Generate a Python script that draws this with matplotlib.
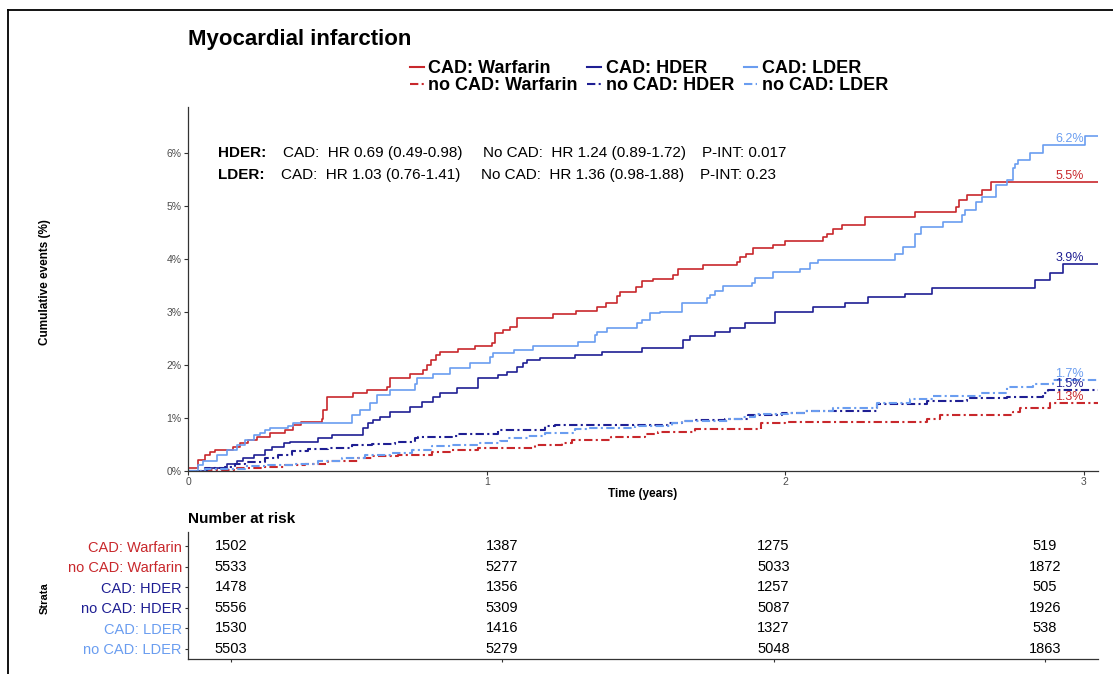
import matplotlib
matplotlib.use("Agg")
import numpy as np
import matplotlib.pyplot as plt
from matplotlib.lines import Line2D
from matplotlib.ticker import FuncFormatter

plt.rcParams["font.family"] = ["Liberation Sans", "DejaVu Sans"]

W, H = 1113, 674

# --- cumulative incidence step curves: time (years), events (%) ---
cad_warf_t = [0, 0.035, 0.057, 0.074, 0.09, 0.15, 0.174, 0.20, 0.23, 0.275, 0.325, 0.353, 0.38, 0.448,
              0.453, 0.464, 0.553, 0.598, 0.665, 0.676, 0.743, 0.788, 0.80, 0.815, 0.832, 0.843, 0.905,
              0.96, 1.017, 1.028, 1.056, 1.078, 1.10, 1.223, 1.30, 1.368, 1.40, 1.435, 1.446, 1.50, 1.52,
              1.558, 1.625, 1.64, 1.725, 1.837, 1.848, 1.87, 1.893, 1.96, 2.0, 2.127, 2.138, 2.16, 2.19,
              2.267, 2.434, 2.573, 2.582, 2.607, 2.657, 2.69]
cad_warf_y = [0.05, 0.20, 0.30, 0.36, 0.40, 0.46, 0.52, 0.58, 0.65, 0.71, 0.77, 0.87, 0.93, 0.99, 1.15,
              1.40, 1.47, 1.53, 1.59, 1.75, 1.84, 1.91, 2.00, 2.09, 2.19, 2.25, 2.31, 2.35, 2.41, 2.60,
              2.66, 2.72, 2.88, 2.96, 3.02, 3.10, 3.18, 3.31, 3.38, 3.48, 3.59, 3.62, 3.69, 3.82, 3.89,
              3.95, 4.04, 4.09, 4.20, 4.26, 4.35, 4.42, 4.48, 4.56, 4.64, 4.79, 4.89, 4.99, 5.11, 5.21,
              5.31, 5.45]

nocad_warf_t = [0, 0.05, 0.157, 0.247, 0.325, 0.392, 0.47, 0.57, 0.615, 0.704, 0.816, 0.883, 0.972,
                1.162, 1.251, 1.285, 1.418, 1.53, 1.575, 1.697, 1.92, 2.0, 2.473, 2.518, 2.763, 2.785,
                2.886]
nocad_warf_y = [0, 0.02, 0.05, 0.08, 0.11, 0.14, 0.19, 0.24, 0.29, 0.31, 0.36, 0.39, 0.43, 0.49, 0.53,
                0.58, 0.64, 0.69, 0.74, 0.80, 0.90, 0.93, 0.99, 1.06, 1.12, 1.18, 1.29]

cad_hder_t = [0, 0.062, 0.13, 0.163, 0.185, 0.22, 0.258, 0.28, 0.32, 0.341, 0.436, 0.481, 0.587, 0.604,
              0.62, 0.643, 0.676, 0.743, 0.782, 0.82, 0.843, 0.9, 0.972, 1.039, 1.067, 1.10, 1.123,
              1.134, 1.178, 1.296, 1.385, 1.519, 1.658, 1.681, 1.764, 1.815, 1.865, 1.965, 2.094, 2.2,
              2.278, 2.40, 2.49, 2.836, 2.886, 2.93]
cad_hder_y = [0, 0.05, 0.14, 0.18, 0.24, 0.30, 0.40, 0.46, 0.52, 0.55, 0.62, 0.68, 0.81, 0.90, 0.96,
              1.02, 1.12, 1.21, 1.31, 1.40, 1.47, 1.56, 1.75, 1.81, 1.87, 1.97, 2.03, 2.09, 2.13, 2.19,
              2.25, 2.33, 2.47, 2.55, 2.63, 2.69, 2.80, 3.01, 3.10, 3.18, 3.29, 3.35, 3.45, 3.60, 3.74,
              3.90]

nocad_hder_t = [0, 0.057, 0.124, 0.157, 0.19, 0.258, 0.302, 0.347, 0.403, 0.47, 0.548, 0.615, 0.693,
                0.76, 0.771, 0.883, 0.905, 1.039, 1.195, 1.229, 1.608, 1.653, 1.697, 1.798, 1.876,
                1.988, 2.066, 2.306, 2.473, 2.607, 2.741, 2.864, 2.88]
nocad_hder_y = [0, 0.05, 0.08, 0.14, 0.17, 0.24, 0.30, 0.37, 0.41, 0.44, 0.49, 0.51, 0.54, 0.62, 0.64,
                0.67, 0.70, 0.77, 0.84, 0.87, 0.91, 0.95, 0.97, 0.99, 1.06, 1.10, 1.14, 1.26, 1.32, 1.37,
                1.40, 1.47, 1.52]

cad_lder_t = [0, 0.035, 0.051, 0.096, 0.13, 0.163, 0.19, 0.22, 0.24, 0.258, 0.275, 0.336, 0.353, 0.548,
              0.576, 0.61, 0.632, 0.676, 0.76, 0.766, 0.82, 0.877, 0.944, 1.01, 1.022, 1.09, 1.156,
              1.307, 1.363, 1.368, 1.402, 1.502, 1.519, 1.547, 1.58, 1.653, 1.737, 1.748, 1.764, 1.792,
              1.887, 1.898, 1.96, 2.049, 2.082, 2.11, 2.367, 2.395, 2.434, 2.456, 2.529, 2.59, 2.60,
              2.64, 2.657, 2.707, 2.741, 2.763, 2.769, 2.78, 2.819, 2.863, 3.003]
cad_lder_y = [0, 0.11, 0.18, 0.30, 0.40, 0.49, 0.58, 0.68, 0.71, 0.77, 0.81, 0.84, 0.90, 1.06, 1.15,
              1.28, 1.43, 1.53, 1.65, 1.75, 1.84, 1.94, 2.03, 2.16, 2.22, 2.28, 2.35, 2.44, 2.57, 2.63,
              2.69, 2.79, 2.85, 2.99, 3.01, 3.18, 3.26, 3.32, 3.40, 3.49, 3.54, 3.64, 3.76, 3.82, 3.92,
              3.98, 4.10, 4.23, 4.48, 4.60, 4.70, 4.83, 4.92, 5.08, 5.18, 5.40, 5.49, 5.71, 5.80, 5.87,
              6.01, 6.15, 6.32]

nocad_lder_t = [0, 0.057, 0.19, 0.269, 0.358, 0.436, 0.515, 0.593, 0.682, 0.749, 0.816, 0.883, 0.972,
                1.045, 1.072, 1.139, 1.195, 1.296, 1.34, 1.496, 1.619, 1.653, 1.809, 1.854, 1.898, 2.01,
                2.066, 2.16, 2.306, 2.417, 2.495, 2.651, 2.741, 2.83, 2.897]
nocad_lder_y = [0, 0.04, 0.09, 0.11, 0.14, 0.19, 0.24, 0.30, 0.34, 0.40, 0.47, 0.49, 0.52, 0.57, 0.62,
                0.66, 0.71, 0.79, 0.82, 0.85, 0.90, 0.95, 0.98, 1.02, 1.07, 1.10, 1.14, 1.18, 1.28, 1.35,
                1.42, 1.48, 1.59, 1.64, 1.71]

groups = ["CAD: Warfarin", "no CAD: Warfarin", "CAD: HDER", "no CAD: HDER", "CAD: LDER", "no CAD: LDER"]
end_labels = ["5.5%", "1.3%", "3.9%", "1.5%", "6.2%", "1.7%"]

# number at risk
risk_times = [0, 1, 2, 3]
risk_cad_warf = [1502, 1387, 1275, 519]
risk_nocad_warf = [5533, 5277, 5033, 1872]
risk_cad_hder = [1478, 1356, 1257, 505]
risk_nocad_hder = [5556, 5309, 5087, 1926]
risk_cad_lder = [1530, 1416, 1327, 538]
risk_nocad_lder = [5503, 5279, 5048, 1863]

curves = [(cad_warf_t, cad_warf_y), (nocad_warf_t, nocad_warf_y),
          (cad_hder_t, cad_hder_y), (nocad_hder_t, nocad_hder_y),
          (cad_lder_t, cad_lder_y), (nocad_lder_t, nocad_lder_y)]
risks = [risk_cad_warf, risk_nocad_warf, risk_cad_hder, risk_nocad_hder, risk_cad_lder, risk_nocad_lder]

RED, NAVY, LIGHT = "#C8282C", "#1F1F93", "#6A9DF0"
colors = [RED, RED, NAVY, NAVY, LIGHT, LIGHT]
DOTDASH = (0, (4, 1.6, 1, 1.6))
styles = ["-", DOTDASH] * 3
widths = [1.2, 1.5] * 3
XMAX = 3.047


def fx(px):
    return px / W


def fy(py):
    return 1 - py / H


fig = plt.figure(figsize=(W / 100, H / 100), dpi=100)
fig.patch.set_facecolor("white")

# outer frame (left and top edges visible in the crop)
fig.add_artist(Line2D([fx(8), fx(8)], [0, fy(10)], color="black", lw=1.3, transform=fig.transFigure))
fig.add_artist(Line2D([fx(8), 1], [fy(10), fy(10)], color="black", lw=1.3, transform=fig.transFigure))

# ---------------- main plot ----------------
ax = fig.add_axes([fx(188), fy(471), fx(1098) - fx(188), fy(107) - fy(471)])
for (t, y), c, ls, lw in zip(curves, colors, styles, widths):
    ax.step(list(t) + [XMAX], list(y) + [y[-1]], where="post", color=c, ls=ls, lw=lw)

for (t, y), c, lab in zip(curves, colors, end_labels):
    v = y[np.searchsorted(t, 3.0, side="right") - 1]
    ax.text(3.0, v, lab, ha="right", va="bottom", color=c, fontsize=9)

ax.set_xlim(0, XMAX)
ax.set_ylim(0, 6.87)
ax.set_xticks([0, 1, 2, 3])
ax.set_yticks(range(7))
ax.yaxis.set_major_formatter(FuncFormatter(lambda v, p: f"{int(v)}%"))
ax.tick_params(labelsize=7.5, colors="#333333", labelcolor="#4D4D4D", length=3, width=0.8, pad=1.5)
for s in ["top", "right"]:
    ax.spines[s].set_visible(False)
for s in ["left", "bottom"]:
    ax.spines[s].set_color("#333333")
    ax.spines[s].set_linewidth(0.9)

fig.text(fx(643), fy(494), "Time (years)", ha="center", va="center", fontsize=8.5, fontweight="bold")
fig.text(fx(45), fy(282), "Cumulative events (%)", ha="center", va="center", rotation=90,
         fontsize=8.5, fontweight="bold")

# title and legend
fig.text(fx(188), fy(39), "Myocardial infarction", ha="left", va="center", fontsize=16, fontweight="bold")
handles = [Line2D([], [], color=c, ls=ls, lw=1.5) for c, ls in zip(colors, styles)]
fig.legend(handles, groups, ncol=3, loc="upper left", bbox_to_anchor=(fx(410), fy(60)),
           frameon=False, prop={"weight": "bold", "size": 13}, handlelength=0.75,
           handletextpad=0.25, columnspacing=0.55, labelspacing=0.0, borderpad=0, borderaxespad=0)

# hazard ratio annotations
fig.text(fx(218), fy(153), "HDER:", fontsize=11, fontweight="bold", va="center")
fig.text(fx(283), fy(153), "CAD:  HR 0.69 (0.49-0.98)", fontsize=11, va="center")
fig.text(fx(483), fy(153), "No CAD:  HR 1.24 (0.89-1.72)", fontsize=11, va="center")
fig.text(fx(702), fy(153), "P-INT: 0.017", fontsize=11, va="center")
fig.text(fx(218), fy(175), "LDER:", fontsize=11, fontweight="bold", va="center")
fig.text(fx(281), fy(175), "CAD:  HR 1.03 (0.76-1.41)", fontsize=11, va="center")
fig.text(fx(481), fy(175), "No CAD:  HR 1.36 (0.98-1.88)", fontsize=11, va="center")
fig.text(fx(700), fy(175), "P-INT: 0.23", fontsize=11, va="center")

# ---------------- risk table ----------------
tax = fig.add_axes([fx(188), fy(659), fx(1098) - fx(188), fy(532) - fy(659)])
n = len(groups)
for i, row in enumerate(risks):
    for t, val in zip(risk_times, row):
        tax.text(t, n - 1 - i, str(val), ha="center", va="center", fontsize=10.5, color="black")
tax.set_xlim(-0.158, 3.196)
tax.set_ylim(-0.5, 5.7)
tax.set_xticks(risk_times)
tax.set_xticklabels([])
tax.tick_params(colors="#333333", length=2.5, width=0.8, pad=2)
tax.set_yticks(range(n))
tax.set_yticklabels(groups[::-1], fontsize=10.5)
for lab, c in zip(tax.get_yticklabels(), colors[::-1]):
    lab.set_color(c)
for s in ["top", "right"]:
    tax.spines[s].set_visible(False)
for s in ["left", "bottom"]:
    tax.spines[s].set_color("#333333")
    tax.spines[s].set_linewidth(0.9)

fig.text(fx(188), fy(519), "Number at risk", ha="left", va="center", fontsize=11, fontweight="bold")
fig.text(fx(45), fy(598), "Strata", ha="center", va="center", rotation=90, fontsize=8, fontweight="bold")

fig.savefig("out.png", dpi=100)
